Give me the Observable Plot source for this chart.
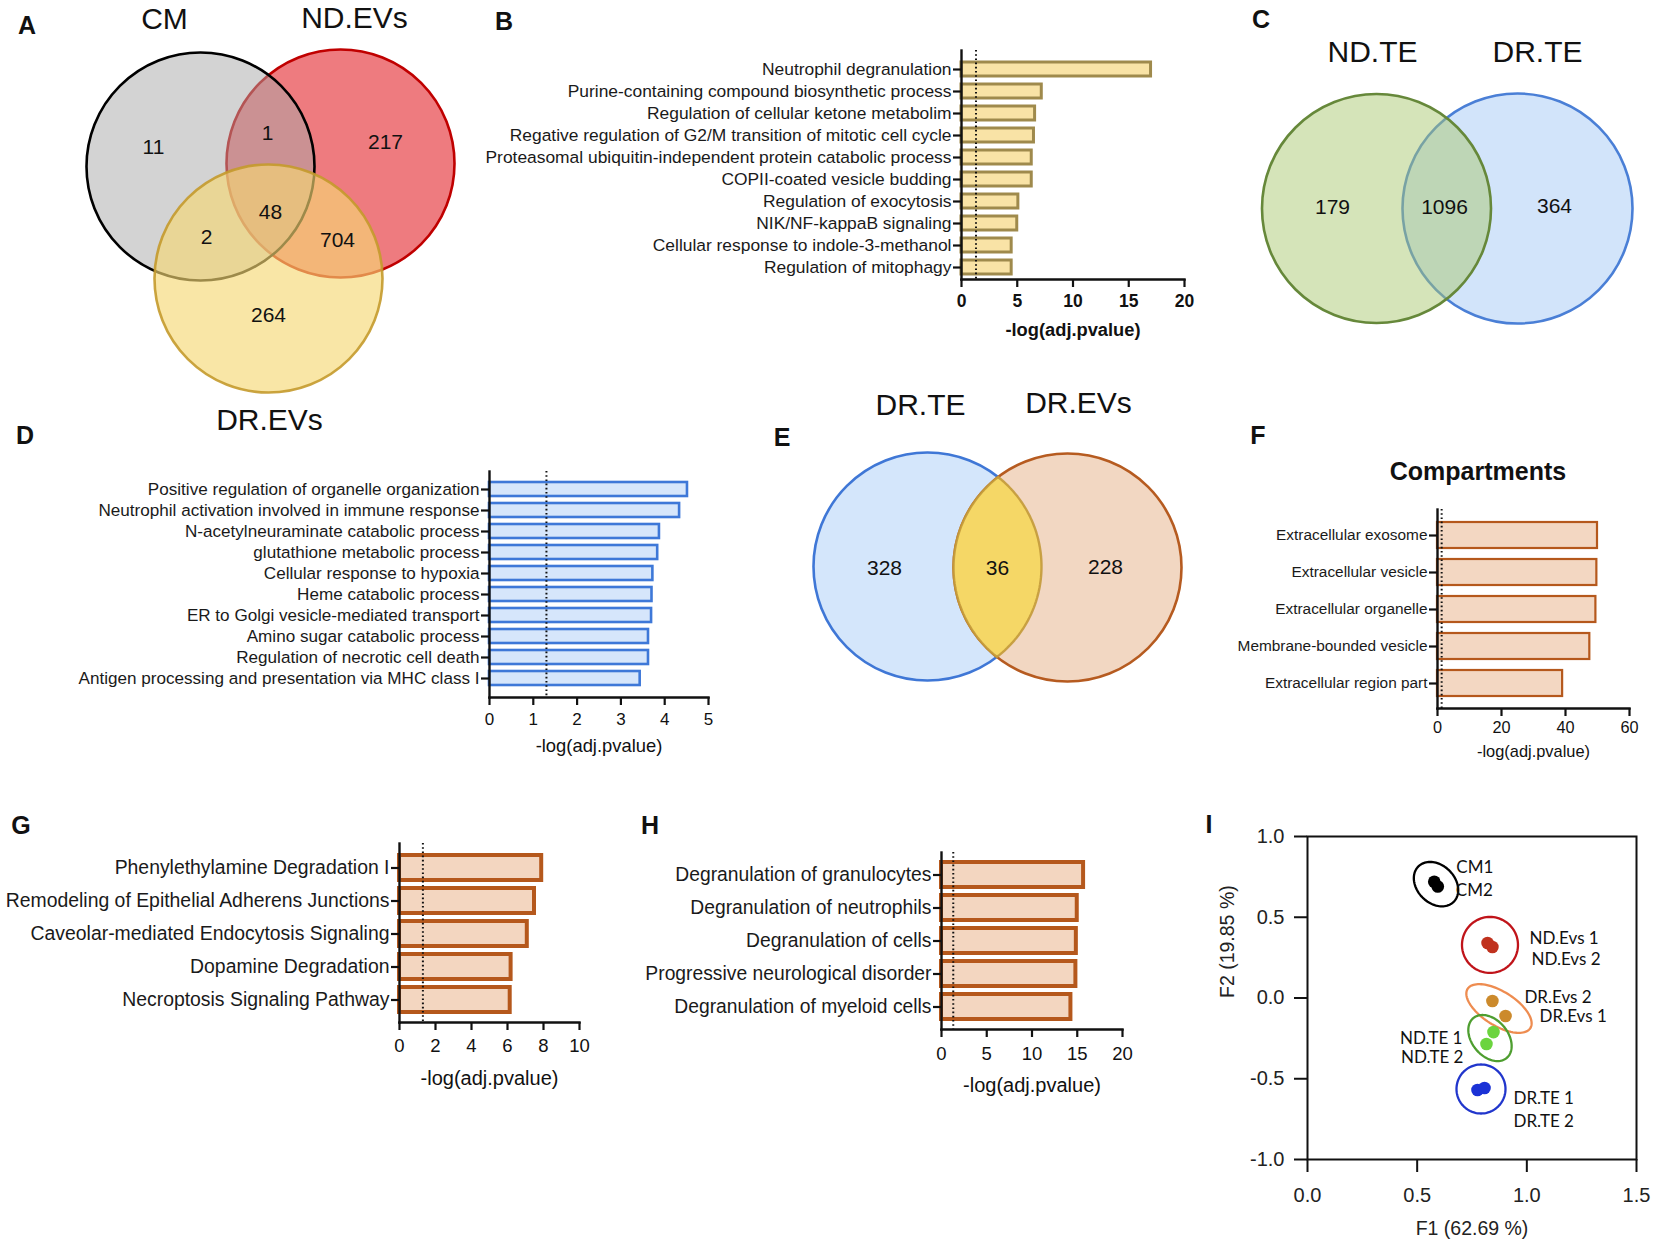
<!DOCTYPE html>
<html><head><meta charset="utf-8">
<script src="https://cdn.jsdelivr.net/npm/d3@7"></script>
<script src="https://cdn.jsdelivr.net/npm/@observablehq/plot@0.6"></script>
<style>
html,body{margin:0;padding:0;background:#fff;}
#fig{position:relative;width:1654px;height:1247px;overflow:hidden;font-family:"Liberation Sans",Arial,sans-serif;color:#111;}
.panel{position:absolute;}
.panel svg{overflow:visible;display:block;}
.letter{position:absolute;font-weight:bold;font-size:25px;line-height:1;transform:translate(-50%,-50%);}
.title{position:absolute;font-weight:bold;font-size:25px;line-height:1;transform:translate(-50%,-50%);white-space:nowrap;}
</style></head><body><div id="fig"></div><script>
// ---------------- DATA ----------------
// A: three-set Venn
const vennASets = ["CM", "ND.EVs", "DR.EVs"];
const vennARegions = ["CM only", "CM & ND.EVs", "ND.EVs only", "all three", "CM & DR.EVs", "ND.EVs & DR.EVs", "DR.EVs only"];
const vennACounts = [11, 1, 217, 48, 2, 704, 264];
// C: two-set Venn
const vennCSets = ["ND.TE", "DR.TE"];
const vennCCounts = [179, 1096, 364];
// E: two-set Venn
const vennESets = ["DR.TE", "DR.EVs"];
const vennECounts = [328, 36, 228];

const threshold = 1.3; // -log10(0.05)

// B
const termsB = ["Neutrophil degranulation", "Purine-containing compound biosynthetic process", "Regulation of cellular ketone metabolim", "Regative regulation of G2/M transition of mitotic cell cycle", "Proteasomal ubiquitin-independent protein catabolic process", "COPII-coated vesicle budding", "Regulation of exocytosis", "NIK/NF-kappaB signaling", "Cellular response to indole-3-methanol", "Regulation of mitophagy"];
const valuesB = [17.0, 7.2, 6.6, 6.5, 6.3, 6.3, 5.1, 5.0, 4.5, 4.5];
const ticksB = [0, 5, 10, 15, 20];
// D
const termsD = ["Positive regulation of organelle organization", "Neutrophil activation involved in immune response", "N-acetylneuraminate catabolic process", "glutathione metabolic process", "Cellular response to hypoxia", "Heme catabolic process", "ER to Golgi vesicle-mediated transport", "Amino sugar catabolic process", "Regulation of necrotic cell death", "Antigen processing and presentation via MHC class I"];
const valuesD = [4.52, 4.34, 3.88, 3.84, 3.73, 3.71, 3.70, 3.63, 3.63, 3.44];
const ticksD = [0, 1, 2, 3, 4, 5];
// F
const termsF = ["Extracellular exosome", "Extracellular vesicle", "Extracellular organelle", "Membrane-bounded vesicle", "Extracellular region part"];
const valuesF = [50.0, 49.8, 49.5, 47.6, 39.1];
const ticksF = [0, 20, 40, 60];
// G
const termsG = ["Phenylethylamine Degradation I", "Remodeling of Epithelial Adherens Junctions", "Caveolar-mediated Endocytosis Signaling", "Dopamine Degradation", "Necroptosis Signaling Pathway"];
const valuesG = [7.9, 7.5, 7.1, 6.2, 6.15];
const ticksG = [0, 2, 4, 6, 8, 10];
// H
const termsH = ["Degranulation of granulocytes", "Degranulation of neutrophils", "Degranulation of cells", "Progressive neurological disorder", "Degranulation of myeloid cells"];
const valuesH = [15.7, 15.0, 14.9, 14.85, 14.3];
const ticksH = [0, 5, 10, 15, 20];
// I: PCA
const pcaSamples = ["CM1", "CM2", "ND.Evs 1", "ND.Evs 2", "DR.Evs 2", "DR.Evs 1", "ND.TE 1", "ND.TE 2", "DR.TE 1", "DR.TE 2"];
const pcaGroup = ["CM", "CM", "ND.Evs", "ND.Evs", "DR.Evs", "DR.Evs", "ND.TE", "ND.TE", "DR.TE", "DR.TE"];
const pcaF1 = [0.578, 0.594, 0.821, 0.843, 0.843, 0.903, 0.848, 0.816, 0.775, 0.807];
const pcaF2 = [0.720, 0.690, 0.341, 0.316, -0.019, -0.111, -0.211, -0.285, -0.570, -0.557];
const ticksIX = [0, 0.5, 1.0, 1.5];
const ticksIY = [-1.0, -0.5, 0.0, 0.5, 1.0];

// ---------------- HELPERS ----------------
const fig = document.getElementById("fig");
const baseStyle = {background: "transparent", fontFamily: "Liberation Sans, Arial, sans-serif", fontSize: "15px", color: "#111", overflow: "visible"};
function place(node, left, top, w, h) {
  const d = document.createElement("div");
  d.className = "panel";
  Object.assign(d.style, {left: left + "px", top: top + "px", width: w + "px", height: h + "px"});
  d.appendChild(node);
  fig.appendChild(d);
}
function addText(cls, txt, x, y) {
  const d = document.createElement("div");
  d.className = cls; d.textContent = txt;
  d.style.left = x + "px"; d.style.top = y + "px";
  fig.appendChild(d);
}

function venn({left, top, w, h, circles, titles, labels, lens}) {
  const marks = [];
  for (const c of circles) {
    marks.push(Plot.dot([c], {x: "x", y: "y", r: c.r, fill: c.fill, fillOpacity: c.fillOpacity ?? 1,
      stroke: c.stroke, strokeWidth: 2.6, strokeOpacity: c.strokeOpacity ?? 1}));
  }
  if (lens) {
    const [c1, c2] = lens.circles;
    const d = Math.hypot(c2.x - c1.x, c2.y - c1.y);
    const base = Math.atan2(c2.y - c1.y, c2.x - c1.x);
    const t1 = Math.acos((d * d + c1.r * c1.r - c2.r * c2.r) / (2 * d * c1.r));
    const t2 = Math.acos((d * d + c2.r * c2.r - c1.r * c1.r) / (2 * d * c2.r));
    const pts = [];
    const N = 60;
    for (let i = 0; i <= N; i++) { const a = base - t1 + 2 * t1 * i / N; pts.push({x: c1.x + c1.r * Math.cos(a), y: c1.y + c1.r * Math.sin(a)}); }
    for (let i = 0; i <= N; i++) { const a = base + Math.PI - t2 + 2 * t2 * i / N; pts.push({x: c2.x + c2.r * Math.cos(a), y: c2.y + c2.r * Math.sin(a)}); }
    marks.push(Plot.line(pts, {x: "x", y: "y", fill: lens.fill, fillOpacity: lens.fillOpacity, stroke: lens.stroke, strokeWidth: 2.4, strokeOpacity: 0.9}));
  }
  marks.push(Plot.text(titles, {x: "x", y: "y", text: "text", fontSize: 30, fill: "#111"}));
  marks.push(Plot.text(labels, {x: "x", y: "y", text: "text", fontSize: 21, fill: "#111"}));
  const svg = Plot.plot({width: w, height: h, margin: 0, axis: null, style: baseStyle,
    x: {domain: [0, w], range: [0, w]}, y: {domain: [0, h], range: [0, h]}, marks});
  place(svg, left, top, w, h);
}

function barPanel(cfg) {
  const n = cfg.terms.length;
  const step = (cfg.lastCenter - cfg.firstCenter) / (n - 1);
  const range = cfg.axisBottom - cfg.axisTop;
  const extra = range - step * (n - cfg.padInner);
  const po = Math.max(0, extra / (2 * step));
  const bandStart = cfg.firstCenter - (1 - cfg.padInner) * step / 2;
  const align = extra > 0 ? Math.max(0, Math.min(1, (bandStart - cfg.axisTop) / extra)) : 0.5;
  const rows = cfg.terms.map((t, i) => ({term: t, value: cfg.values[i]}));
  const svg = Plot.plot({
    width: cfg.width, height: cfg.height,
    marginLeft: cfg.axisX - cfg.left,
    marginRight: cfg.left + cfg.width - cfg.xRight,
    marginTop: cfg.axisTop - cfg.top,
    marginBottom: cfg.top + cfg.height - cfg.axisBottom,
    style: baseStyle,
    x: {domain: cfg.domain},
    y: {domain: cfg.terms, paddingInner: cfg.padInner, paddingOuter: po, align},
    marks: [
      Plot.barX(rows, {x: "value", y: "term", fill: cfg.fill, stroke: cfg.stroke, strokeWidth: cfg.barStroke}),
      Plot.ruleX([threshold], {stroke: "#111", strokeWidth: 2, strokeDasharray: "1.6,2.6"}),
      Plot.frame({anchor: "left", strokeWidth: 2.4, stroke: "#111"}),
      Plot.frame({anchor: "bottom", strokeWidth: 2.4, stroke: "#111"}),
      Plot.axisY({tickSize: 8, tickPadding: 2, strokeWidth: 2.2, fontSize: cfg.labelSize, label: null, fill: "#1a1a1a"}),
      Plot.axisX(cfg.ticks, {tickSize: 8, tickPadding: cfg.tickPad, strokeWidth: 2.2, fontSize: cfg.tickSize, fontWeight: cfg.tickWeight, label: null, fill: "#111"}),
      Plot.text([cfg.title], {text: d => d, frameAnchor: "bottom", dy: cfg.titleY - cfg.axisBottom, fontSize: cfg.titleSize, fontWeight: cfg.titleWeight, lineAnchor: "middle", fill: "#111"})
    ]
  });
  place(svg, cfg.left, cfg.top, cfg.width, cfg.height);
}

// ---------------- PANEL A ----------------
const A_layout = {
  circles: {"ND.EVs": {x: 340, y: 163}, "CM": {x: 200, y: 166}, "DR.EVs": {x: 268, y: 278}},
  style: {
    "ND.EVs": {fill: "#ee7b7f", fillOpacity: 1, stroke: "#c00000"},
    "CM": {fill: "#a7a7a7", fillOpacity: 0.5, stroke: "#000"},
    "DR.EVs": {fill: "#f5d874", fillOpacity: 0.64, stroke: "#c49a2c", strokeOpacity: 0.9}
  },
  titles: {"CM": {x: 164, y: 18.5}, "ND.EVs": {x: 354, y: 17.5}, "DR.EVs": {x: 269, y: 419.5}},
  regions: [{x: 153, y: 147}, {x: 267, y: 133}, {x: 385, y: 142}, {x: 270, y: 212}, {x: 206, y: 237}, {x: 337, y: 240}, {x: 268, y: 315}]
};
venn({
  left: 0, top: 0, w: 470, h: 440,
  circles: ["ND.EVs", "CM", "DR.EVs"].map(s => ({...A_layout.circles[s], r: 114, ...A_layout.style[s]})),
  titles: vennASets.map(s => ({...A_layout.titles[s], text: s})),
  labels: vennACounts.map((c, i) => ({...A_layout.regions[i], text: String(c), region: vennARegions[i]}))
});

// ---------------- PANEL C ----------------
const C_layout = {
  circles: [{x: 206, y: 208, r: 114.5}, {x: 347, y: 208, r: 115}],
  titles: [{x: 202, y: 52}, {x: 367, y: 52}],
  regions: [{x: 162, y: 207}, {x: 274, y: 207}, {x: 384, y: 206}]
};
venn({
  left: 1170, top: 0, w: 484, h: 340,
  circles: [
    {...C_layout.circles[1], fill: "#d2e4fa", stroke: "#4a7fd6"},
    {...C_layout.circles[0], fill: "#a9c870", fillOpacity: 0.49, stroke: "#66883a"}
  ],
  titles: vennCSets.map((s, i) => ({...C_layout.titles[i], text: s})),
  labels: vennCCounts.map((c, i) => ({...C_layout.regions[i], text: String(c)}))
});

// ---------------- PANEL E ----------------
const E_layout = {
  circles: [{x: 197, y: 206, r: 114}, {x: 337, y: 207, r: 114}],
  titles: [{x: 190, y: 45}, {x: 348, y: 42.5}],
  regions: [{x: 154, y: 208}, {x: 267, y: 208}, {x: 375, y: 207}]
};
venn({
  left: 730, top: 360, w: 470, h: 340,
  circles: [
    {...E_layout.circles[0], fill: "#d4e6fb", stroke: "#3f77d6"},
    {...E_layout.circles[1], fill: "#f2d7c2", stroke: "#b65b20"}
  ],
  lens: {circles: E_layout.circles, fill: "#f5d766", fillOpacity: 1, stroke: "#c39a3a"},
  titles: vennESets.map((s, i) => ({...E_layout.titles[i], text: s})),
  labels: vennECounts.map((c, i) => ({...E_layout.regions[i], text: String(c)}))
});

// ---------------- BAR PANELS ----------------
barPanel({terms: termsB, values: valuesB, ticks: ticksB, domain: [0, 20],
  left: 440, top: 40, width: 760, height: 310, axisX: 961, xRight: 1184,
  axisTop: 50, axisBottom: 279, firstCenter: 67, lastCenter: 268, padInner: 0.35,
  fill: "#f9e3a6", stroke: "#9f8a4c", barStroke: 3,
  labelSize: 17.4, tickSize: 17.5, tickWeight: "bold", tickPad: 7,
  title: "-log(adj.pvalue)", titleY: 330, titleSize: 18.3, titleWeight: "bold"});

barPanel({terms: termsD, values: valuesD, ticks: ticksD, domain: [0, 5],
  left: 0, top: 440, width: 720, height: 330, axisX: 489, xRight: 708,
  axisTop: 471, axisBottom: 697, firstCenter: 485, lastCenter: 682, padInner: 0.33,
  fill: "#d6e6fb", stroke: "#3e78d8", barStroke: 2.6,
  labelSize: 17.1, tickSize: 17, tickWeight: "normal", tickPad: 7,
  title: "-log(adj.pvalue)", titleY: 746, titleSize: 18.4, titleWeight: "normal"});

barPanel({terms: termsF, values: valuesF, ticks: ticksF, domain: [0, 60],
  left: 1180, top: 440, width: 474, height: 330, axisX: 1437, xRight: 1629,
  axisTop: 509, axisBottom: 708, firstCenter: 534, lastCenter: 683, padInner: 0.3,
  fill: "#f3d7c2", stroke: "#b5581c", barStroke: 2.2,
  labelSize: 15.4, tickSize: 16.3, tickWeight: "normal", tickPad: 5,
  title: "-log(adj.pvalue)", titleY: 751, titleSize: 16.4, titleWeight: "normal"});

barPanel({terms: termsG, values: valuesG, ticks: ticksG, domain: [0, 10],
  left: 0, top: 790, width: 600, height: 320, axisX: 399, xRight: 579,
  axisTop: 843, axisBottom: 1022, firstCenter: 866, lastCenter: 1000, padInner: 0.25,
  fill: "#f3d6c0", stroke: "#b5581c", barStroke: 4,
  labelSize: 19.4, tickSize: 18.5, tickWeight: "normal", tickPad: 8,
  title: "-log(adj.pvalue)", titleY: 1078, titleSize: 20, titleWeight: "normal"});

barPanel({terms: termsH, values: valuesH, ticks: ticksH, domain: [0, 20],
  left: 600, top: 790, width: 540, height: 320, axisX: 941, xRight: 1122,
  axisTop: 852, axisBottom: 1029, firstCenter: 873, lastCenter: 1007, padInner: 0.25,
  fill: "#f3d6c0", stroke: "#b5581c", barStroke: 4,
  labelSize: 19.3, tickSize: 18.5, tickWeight: "normal", tickPad: 9,
  title: "-log(adj.pvalue)", titleY: 1085, titleSize: 20, titleWeight: "normal"});

// ---------------- PANEL I (PCA) ----------------
const I_box = {left: 1150, top: 790, width: 504, height: 457, frameL: 1307, frameR: 1636, frameT: 836, frameB: 1159};
const kx = (I_box.frameR - I_box.frameL) / 1.5, ky = (I_box.frameB - I_box.frameT) / 2;
const groupStyle = {
  "CM": {point: "#000000", line: "#000000", a: 25, b: 19, phi: 45},
  "ND.Evs": {point: "#c0321e", line: "#c0141a", a: 28, b: 28, phi: 0},
  "DR.Evs": {point: "#cc8a2c", line: "#ee8c50", a: 37, b: 17, phi: 32},
  "ND.TE": {point: "#6bd43e", line: "#4e9e30", a: 26, b: 18, phi: 50},
  "DR.TE": {point: "#1b32d6", line: "#2136cc", a: 24.5, b: 24.5, phi: 0}
};
const labelOffset = {
  "CM1": {dx: 22, dy: -14, anchor: "start"}, "CM2": {dx: 18, dy: 4, anchor: "start"},
  "ND.Evs 1": {dx: 42, dy: -4, anchor: "start"}, "ND.Evs 2": {dx: 39, dy: 13, anchor: "start"},
  "DR.Evs 2": {dx: 32, dy: -4, anchor: "start"}, "DR.Evs 1": {dx: 34, dy: 1, anchor: "start"},
  "ND.TE 1": {dx: -31, dy: 6, anchor: "end"}, "ND.TE 2": {dx: -23, dy: 14, anchor: "end"},
  "DR.TE 1": {dx: 36, dy: 8, anchor: "start"}, "DR.TE 2": {dx: 29, dy: 34, anchor: "start"}
};
const samples = pcaSamples.map((s, i) => ({sample: s, group: pcaGroup[i], f1: pcaF1[i], f2: pcaF2[i], color: groupStyle[pcaGroup[i]].point}));
const ellipsePts = [];
for (const g of Object.keys(groupStyle)) {
  const members = samples.filter(d => d.group === g);
  const cx = d3.mean(members, d => d.f1), cy = d3.mean(members, d => d.f2);
  const {a, b, phi, line} = groupStyle[g];
  const p = phi * Math.PI / 180;
  for (let i = 0; i <= 96; i++) {
    const t = 2 * Math.PI * i / 96;
    const ex = a * Math.cos(t), ey = b * Math.sin(t);
    const sx = ex * Math.cos(p) - ey * Math.sin(p), sy = ex * Math.sin(p) + ey * Math.cos(p);
    ellipsePts.push({group: g, color: line, x: cx + sx / kx, y: cy - sy / ky});
  }
}
const fmt1 = d => d.toFixed(1);
const pcaMarks = [
  Plot.frame({stroke: "#111", strokeWidth: 2}),
  Plot.axisX(ticksIX, {tickSize: 13, tickPadding: 15, strokeWidth: 2, fontSize: 20, tickFormat: fmt1, label: null, fill: "#222"}),
  Plot.axisY(ticksIY, {tickSize: 13, tickPadding: 10, strokeWidth: 2, fontSize: 20, tickFormat: fmt1, label: null, fill: "#222"}),
  Plot.line(ellipsePts, {x: "x", y: "y", z: "group", stroke: "color", strokeWidth: 2.3}),
  Plot.dot(samples, {x: "f1", y: "f2", r: 6.3, fill: "color", stroke: null}),
  Plot.text(["F1 (62.69 %)"], {text: d => d, frameAnchor: "bottom", dy: 1234 - I_box.frameB, fontSize: 19.5, fill: "#222"}),
  Plot.text(["F2 (19.85 %)"], {text: d => d, frameAnchor: "left", rotate: -90, dx: -(I_box.frameL - 1227), fontSize: 19.5, fill: "#222"})
];
for (const d of samples) {
  const o = labelOffset[d.sample];
  pcaMarks.push(Plot.text([d], {x: "f1", y: "f2", text: "sample", dx: o.dx, dy: o.dy, textAnchor: o.anchor, fontSize: 17, fontFamily: "Lato, sans-serif", fill: "#111"}));
}
const pca = Plot.plot({
  width: I_box.width, height: I_box.height,
  marginLeft: I_box.frameL - I_box.left, marginRight: I_box.left + I_box.width - I_box.frameR,
  marginTop: I_box.frameT - I_box.top, marginBottom: I_box.top + I_box.height - I_box.frameB,
  style: baseStyle,
  x: {domain: [0, 1.5]}, y: {domain: [-1, 1]}, color: {type: "identity"},
  marks: pcaMarks
});
place(pca, I_box.left, I_box.top, I_box.width, I_box.height);

// ---------------- TITLES & PANEL LETTERS ----------------
addText("title", "Compartments", 1478, 471);
const letters = [["A", 27, 25], ["B", 504, 21], ["C", 1261, 19], ["D", 25, 435], ["E", 782, 437], ["F", 1258, 435], ["G", 21, 825], ["H", 650, 825], ["I", 1209, 824]];
for (const [t, x, y] of letters) addText("letter", t, x, y);
</script></body></html>
